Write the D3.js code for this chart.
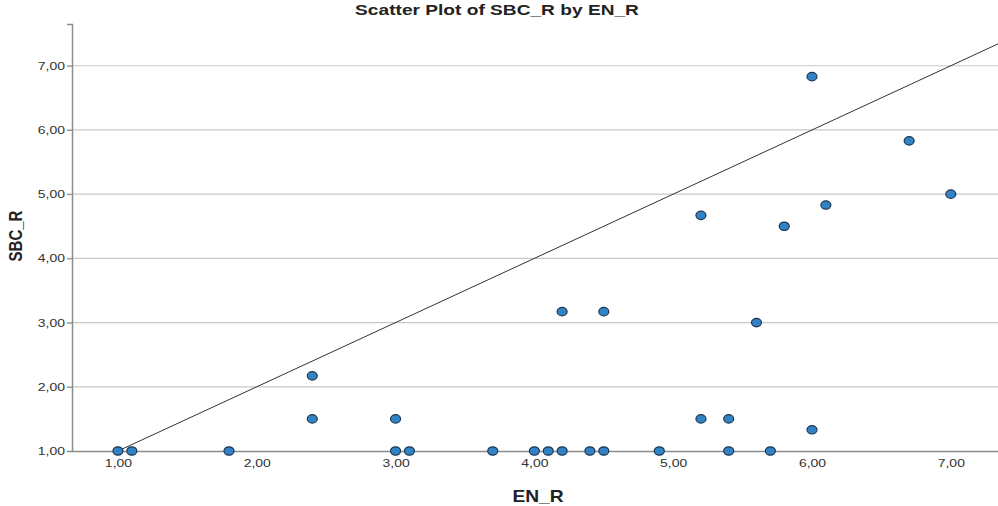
<!DOCTYPE html>
<html>
<head>
<meta charset="utf-8">
<title>Scatter Plot of SBC_R by EN_R</title>
<style>
  body { margin: 0; background: #fff; }
  text { font-family: "Liberation Sans", Arial, sans-serif; }
</style>
</head>
<body>
<div id="chart"></div>
<script src="https://cdn.jsdelivr.net/npm/d3@7/dist/d3.min.js"></script>
<script>
// data
var enR  = [1.0, 1.1, 1.8, 3.0, 3.1, 3.7, 4.0, 4.1, 4.2, 4.4, 4.5, 4.9, 5.4, 5.7,
            2.4, 3.0, 5.2, 5.4, 6.0, 2.4, 4.2, 4.5, 5.6, 5.2, 5.8, 6.1, 7.0, 6.7, 6.0];
var sbcR = [1.0, 1.0, 1.0, 1.0, 1.0, 1.0, 1.0, 1.0, 1.0, 1.0, 1.0, 1.0, 1.0, 1.0,
            1.5, 1.5, 1.5, 1.5, 1.33, 2.17, 3.17, 3.17, 3.0, 4.67, 4.5, 4.83, 5.0, 5.83, 6.83];
var xTicks = [1, 2, 3, 4, 5, 6, 7];
var yTicks = [1, 2, 3, 4, 5, 6, 7];

var W = 998, H = 506;
var mLeft = 72, mRight = 998, mTop = 24, mBottom = 451;
var stretch = 1.27; // the original picture is stretched sideways

var svg = d3.select('#chart').append('svg')
  .attr('width', W).attr('height', H);

var x = d3.scaleLinear().domain([0.669, 7.34]).range([mLeft, mRight]);
var y = d3.scaleLinear().domain([1, 7.65]).range([mBottom, mTop]);

var fmt = function(d) { return d.toFixed(2).replace('.', ','); };

// horizontal grid
svg.append('g').selectAll('line')
  .data(yTicks.slice(1))
  .join('line')
  .attr('x1', mLeft - 5).attr('x2', mRight)
  .attr('y1', d => y(d)).attr('y2', d => y(d))
  .attr('stroke', '#c8c8c8').attr('stroke-width', 1.2);

// y axis
var ya = svg.append('g').attr('transform', 'translate(' + mLeft + ',0)')
  .call(d3.axisLeft(y).tickValues(yTicks).tickFormat(fmt).tickSize(5).tickPadding(0));
ya.select('.domain').attr('stroke', '#8c8c8c').attr('stroke-width', 1.5);
ya.selectAll('.tick line').attr('stroke', '#8c8c8c');
ya.selectAll('.tick text').attr('x', 0).attr('fill', '#333').style('font-size', '11px')
  .attr('transform', 'translate(-7,0) scale(' + stretch + ',1)');

// x axis
var xa = svg.append('g').attr('transform', 'translate(0,' + mBottom + ')')
  .call(d3.axisBottom(x).tickValues(xTicks).tickFormat(fmt).tickSize(0).tickPadding(8));
xa.select('.domain').attr('stroke', '#8c8c8c').attr('stroke-width', 1.5);
xa.selectAll('.tick text').attr('fill', '#333').style('font-size', '11px')
  .attr('transform', 'scale(' + stretch + ',1)');

// reference line y = x
svg.append('line')
  .attr('x1', x(1)).attr('y1', y(1))
  .attr('x2', x(7.34)).attr('y2', y(7.34))
  .attr('stroke', '#333').attr('stroke-width', 1);

// points
svg.append('g').selectAll('ellipse')
  .data(enR.map((d, i) => [d, sbcR[i]]))
  .join('ellipse')
  .attr('cx', d => x(d[0])).attr('cy', d => y(d[1]))
  .attr('rx', 5).attr('ry', 4.2)
  .attr('fill', '#3283c6')
  .attr('stroke', '#1c3550').attr('stroke-width', 1.2);

// titles
svg.append('text')
  .attr('transform', 'translate(497,15) scale(1.32,1)')
  .attr('text-anchor', 'middle')
  .style('font-size', '14.5px').style('font-weight', 'bold')
  .attr('fill', '#222')
  .text('Scatter Plot of SBC_R by EN_R');

svg.append('text')
  .attr('transform', 'translate(538,502) scale(1.2,1)')
  .attr('text-anchor', 'middle')
  .style('font-size', '16px').style('font-weight', 'bold')
  .attr('fill', '#222')
  .text('EN_R');

svg.append('text')
  .attr('transform', 'translate(22,236) scale(1.2,1) rotate(-90)')
  .attr('text-anchor', 'middle')
  .style('font-size', '15px').style('font-weight', 'bold')
  .attr('fill', '#222')
  .text('SBC_R');
</script>
</body>
</html>
